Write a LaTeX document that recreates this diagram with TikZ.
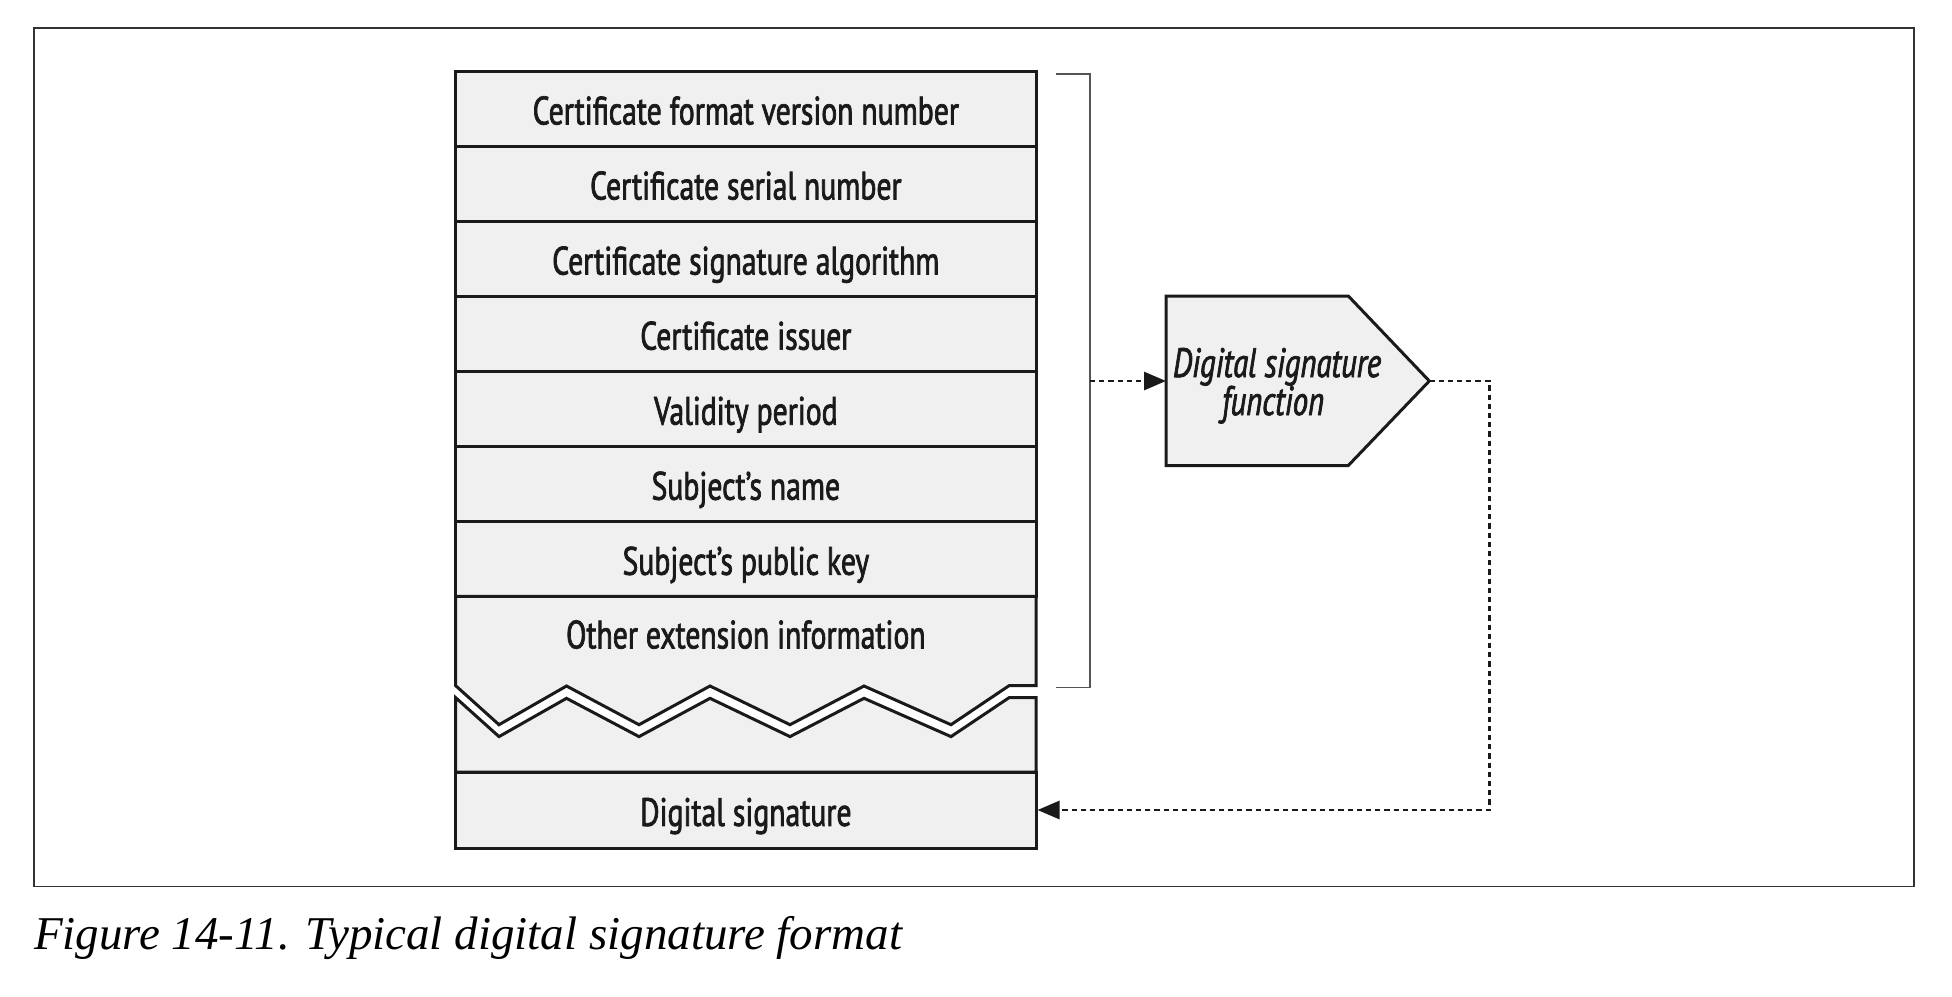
\documentclass[tikz,border=0pt]{standalone}
\usepackage{fontspec}
\setmainfont{Liberation Serif}
\newfontfamily\rowfont[FakeStretch=0.75,FakeBold=1.8]{PT Sans}
\usetikzlibrary{arrows.meta}
\definecolor{boxfill}{HTML}{F0F0F0}
\definecolor{ink}{HTML}{1A1A1A}
\definecolor{framegray}{HTML}{333333}
\definecolor{brackgray}{HTML}{555555}
\begin{document}
\begin{tikzpicture}[x=0.5pt,y=-0.5pt,
  rowbox/.style={draw=ink, line width=1.5pt, fill=boxfill, minimum width=290.15pt,
    minimum height=37.53pt, inner sep=0pt, text height=15.9pt, text depth=0pt,
    font=\rowfont\fontsize{19.8}{22}\selectfont, text=ink},
  shapeline/.style={draw=ink, line width=1.5pt, fill=boxfill, line join=miter},
  labeltext/.style={inner sep=0pt, font=\rowfont\fontsize{19.8}{22}\selectfont, text=ink},
  fnlabel/.style={inner sep=0pt, font=\rowfont\itshape\fontsize{20.5}{22}\selectfont, text=ink},
  conn/.style={draw=ink, line width=1.4pt, dash pattern=on 2.6pt off 2pt,
    -{Triangle[length=11pt,width=9pt]}},
  bracketline/.style={draw=brackgray, line width=0.8pt},
  outerframe/.style={draw=framegray, line width=0.9pt}]
\useasboundingbox (0,0) rectangle (1952,996);
\fill[white] (0,0) rectangle (1952,996);
\draw[outerframe] (33.6,28.3) rectangle (1914,886.4);

% rows
\foreach \t [count=\i from 0] in {Certificate format version number,
  Certificate serial number, Certificate signature algorithm,
  Certificate issuer, Validity period, Subject’s name, Subject’s public key}{
  \node[rowbox] (r\i) at (745.85,{71+75.06*(\i+0.5)}) {\t};
}

% other extension information box with broken bottom
\path[shapeline] (455.7,596.4) -- (1036,596.4) -- (1036,685.7) -- (1009,685.7)
  -- (951,724.7) -- (864,686) -- (790,724.7) -- (710,686) -- (639,724.7)
  -- (566.5,686) -- (499,724.7) -- (455.7,685.7) -- cycle;
\node[labeltext, text height=15.9pt, text depth=0pt] (other) at (745.85,632.5) {Other extension information};

% lower part with broken top
\path[shapeline] (455.7,697.7) -- (499,736.6) -- (566.5,698.3) -- (639,736.6)
  -- (710,698.3) -- (790,736.6) -- (864,698.3) -- (951,736.6) -- (1009,697.7)
  -- (1036,697.7) -- (1036,772) -- (455.7,772) -- cycle;
\node[rowbox, minimum height=38pt] (ds) at (745.85,810) {Digital signature};

% bracket
\draw[bracketline] (1056,74) -- (1090,74) -- (1090,687.5) -- (1056,687.5);
\coordinate (brk) at (1090,381);

% digital signature function pentagon
\path[shapeline] (1166,296) -- (1348.3,296) -- (1429.3,381) -- (1348.3,465.5)
  -- (1166,465.5) -- cycle;
\coordinate (pentL) at (1166,381);
\coordinate (pentR) at (1429.3,381);
\node[fnlabel, anchor=base] (fnA) at (1277,377) {Digital signature};
\node[fnlabel, anchor=base] (fnB) at (1273,415) {function};

% connectors
\draw[conn] (brk) -- (pentL);
\coordinate (turn) at (1489.3,381);
\draw[conn] (pentR) -- (turn) |- (ds.east);

% caption
\node[anchor=base west, inner sep=0pt, font=\itshape\fontsize{23.5}{28}\selectfont]
  (caption) at (33.6,949) {Figure 14-11. Typical digital signature format};
\end{tikzpicture}
\end{document}
